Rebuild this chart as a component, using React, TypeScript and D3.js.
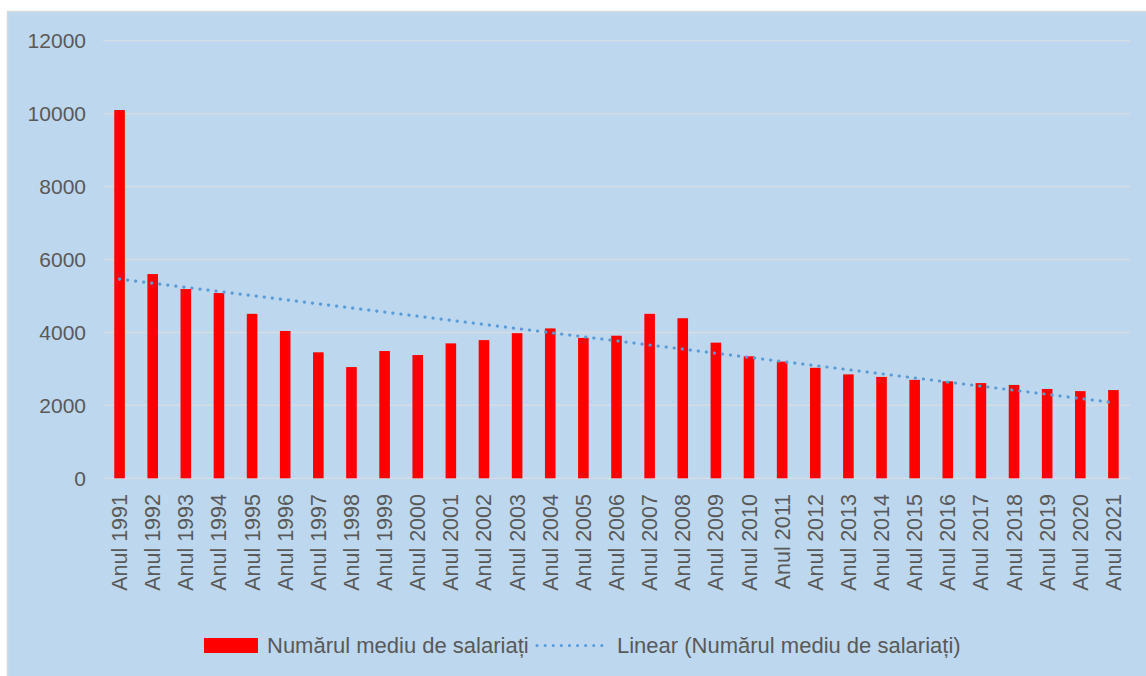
import React from "react";
import * as d3 from "d3";

const years = [
  "Anul 1991","Anul 1992","Anul 1993","Anul 1994","Anul 1995","Anul 1996","Anul 1997","Anul 1998",
  "Anul 1999","Anul 2000","Anul 2001","Anul 2002","Anul 2003","Anul 2004","Anul 2005","Anul 2006",
  "Anul 2007","Anul 2008","Anul 2009","Anul 2010","Anul 2011","Anul 2012","Anul 2013","Anul 2014",
  "Anul 2015","Anul 2016","Anul 2017","Anul 2018","Anul 2019","Anul 2020","Anul 2021",
];
const salariati = [
  10100, 5600, 5190, 5080, 4510, 4040, 3455, 3050,
  3490, 3380, 3700, 3790, 3980, 4110, 3850, 3910,
  4510, 4390, 3720, 3345, 3200, 3030, 2850, 2780,
  2700, 2660, 2610, 2560, 2450, 2390, 2420,
];
const yTicks = [0, 2000, 4000, 6000, 8000, 10000, 12000];
const seriesName = "Numărul mediu de salariați";
const trendName = "Linear (Numărul mediu de salariați)";

const W = 1146, H = 676;
const left = 103, right = 1130, top = 40.7, bottom = 478.3;
const FONT = "'Liberation Sans', Arial, sans-serif";
const TEXT = "#595959";

export default function App() {
  const x = d3.scaleBand<string>().domain(years).range([left, right]).paddingInner(0.68).paddingOuter(0.34);
  const y = d3.scaleLinear().domain([0, 12000]).range([bottom, top]);

  // linear regression trend (as Excel's linear trendline)
  const n = salariati.length;
  const xs = d3.range(1, n + 1);
  const mx = d3.mean(xs) as number;
  const my = d3.mean(salariati) as number;
  const slope = d3.sum(xs.map((xi, i) => (xi - mx) * (salariati[i] - my))) / d3.sum(xs.map((xi) => (xi - mx) ** 2));
  const intercept = my - slope * mx;
  const trendPts: [number, number][] = [
    [x(years[0])! + x.bandwidth() / 2, y(intercept + slope * 1)],
    [x(years[n - 1])! + x.bandwidth() / 2, y(intercept + slope * n)],
  ];
  const line = d3.line();

  return (
    <svg width={W} height={H} style={{ position: "absolute", left: 0, top: 0 }} fontFamily={FONT}>
      <rect x={0} y={0} width={W} height={H} fill="#ffffff" />
      <rect x={7.5} y={11.5} width={W} height={H} fill="#BDD7EE" stroke="#D9D9D9" strokeWidth={1.5} />
      {yTicks.map((t) => (
        <g key={t}>
          <line x1={left} x2={right} y1={y(t)} y2={y(t)} stroke="#D5DCE4" strokeWidth={1.5} />
          <text x={86} y={y(t)} dy="0.35em" textAnchor="end" fontSize={21} fill={TEXT}>{t}</text>
        </g>
      ))}
      {years.map((yr, i) => (
        <rect key={yr} x={x(yr)} y={y(salariati[i])} width={x.bandwidth()} height={bottom - y(salariati[i])} fill="#FF0000" />
      ))}
      <path d={line(trendPts) || ""} fill="none" stroke="#5B9BD5" strokeWidth={3.2} strokeLinecap="round" strokeDasharray="0.1 8" />
      {years.map((yr) => {
        const cx = x(yr)! + x.bandwidth() / 2;
        return (
          <text key={yr} transform={`translate(${cx + 7.5},${494}) rotate(-90)`} textAnchor="end" fontSize={21.5} fill={TEXT}>{yr}</text>
        );
      })}
      <g>
        <rect x={204} y={638} width={54} height={15} fill="#FF0000" />
        <text x={267} y={653} fontSize={22} fill={TEXT}>{seriesName}</text>
        <line x1={537} x2={602} y1={645.5} y2={645.5} stroke="#5B9BD5" strokeWidth={3} strokeLinecap="round" strokeDasharray="0.1 8" />
        <text x={617} y={653} fontSize={22} fill={TEXT}>{trendName}</text>
      </g>
    </svg>
  );
}
